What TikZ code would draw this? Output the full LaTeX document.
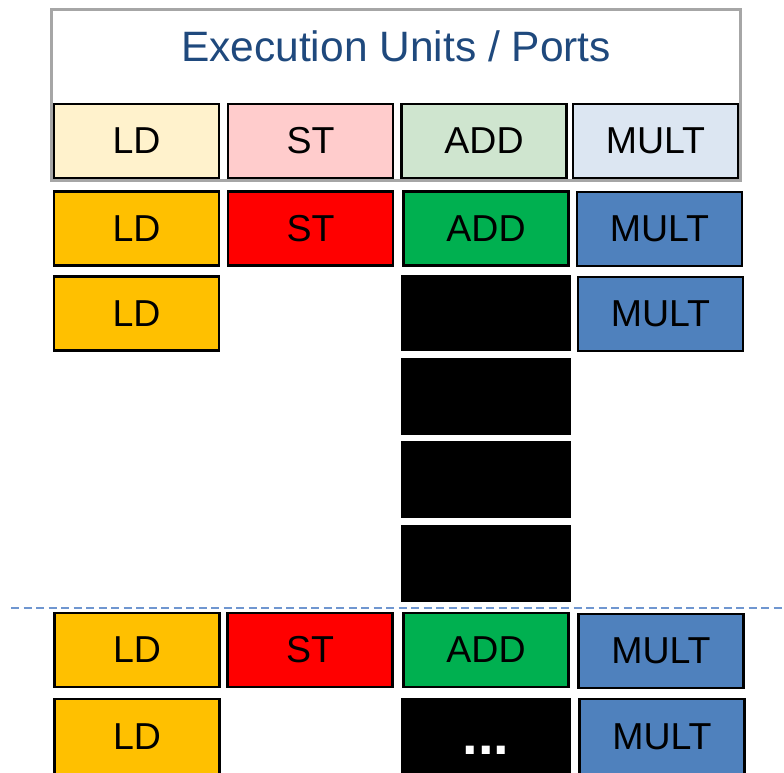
\documentclass[tikz,border=0pt]{standalone}
\usepackage{fontspec}
\setmainfont{Liberation Sans}
\definecolor{ldlight}{HTML}{FFF2CC}
\definecolor{stlight}{HTML}{FFCCCC}
\definecolor{addlight}{HTML}{CFE5CF}
\definecolor{multlight}{HTML}{DCE6F2}
\definecolor{ldc}{HTML}{FFC000}
\definecolor{stc}{HTML}{FF0000}
\definecolor{addc}{HTML}{00B050}
\definecolor{multc}{HTML}{4F81BD}
\definecolor{titleblue}{HTML}{1F497D}
\definecolor{framegray}{HTML}{A6A6A6}
\definecolor{dashblue}{HTML}{6F96D0}
\begin{document}
\begin{tikzpicture}[x=1pt,y=-1pt,
  unit/.style={draw=black,line width=2.6pt,inner sep=0pt,minimum width=165pt,minimum height=74pt,
    font=\fontsize{37.5}{40}\selectfont},
  blk/.style={unit,fill=black,minimum width=167pt},
]
\clip (0,0) rectangle (784,773);
\useasboundingbox (0,0) rectangle (784,773);
% frame
\draw[framegray,line width=3pt] (51.5,10) rectangle (740.5,180);
\node[text=titleblue,font=\fontsize{42.5}{46}\selectfont] (title) at (396,46.5) {Execution Units / Ports};
% header
\node[unit,fill=ldlight] (hld) at (136.5,141) {LD};
\node[unit,fill=stlight] (hst) at (310.5,141) {ST};
\node[unit,fill=addlight] (hadd) at (484,141) {ADD};
\node[unit,fill=multlight] (hmult) at (655.5,141) {MULT};
% row 1
\node[unit,fill=ldc] (ld1) at (136.5,228.5) {LD};
\node[unit,fill=stc] (st1) at (310.5,228.5) {ST};
\node[unit,fill=addc] (add1) at (486,228.5) {ADD};
\node[unit,fill=multc] (mult1) at (659.5,229) {MULT};
% row 2
\node[unit,fill=ldc] (ld2) at (136.5,313.5) {LD};
\node[blk] (b1) at (486,313) {};
\node[unit,fill=multc] (mult2) at (660.5,314) {MULT};
\node[blk] (b2) at (486,396.5) {};
\node[blk] (b3) at (486,479.5) {};
\node[blk] (b4) at (486,563.5) {};
% dashed separator
\coordinate (dl) at (11,608);
\coordinate (dr) at (784,608);
\draw[dashblue,line width=1.8pt,dash pattern=on 8pt off 4.5pt] (dl) -- (dr);
% bottom rows
\node[unit,fill=ldc] (ld3) at (137,650) {LD};
\node[unit,fill=stc] (st3) at (310,650) {ST};
\node[unit,fill=addc] (add3) at (486,650) {ADD};
\node[unit,fill=multc] (mult3) at (661,651) {MULT};
\node[unit,fill=ldc,minimum height=76pt] (ld4) at (137,737) {LD};
\node[blk,minimum height=76pt] (b5) at (486,737) {};
\node[text=white,inner sep=0pt,anchor=base,font=\fontsize{56}{60}\selectfont\bfseries] (dots) at (486,754) {...};
\node[unit,fill=multc,minimum height=76pt] (mult4) at (662,737) {MULT};
\end{tikzpicture}
\end{document}
